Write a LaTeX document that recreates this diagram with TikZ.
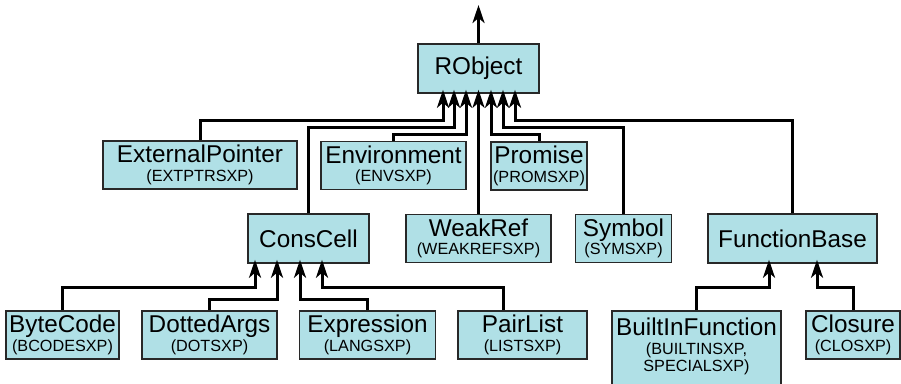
\documentclass[tikz,border=0pt]{standalone}
\usepackage{fontspec}
\setmainfont{Liberation Sans}
\usetikzlibrary{arrows.meta}
\definecolor{boxfill}{RGB}{176,224,230}
\definecolor{boxline}{RGB}{40,40,40}
\newcommand\mainsz{\fontsize{24.3}{24.3}\selectfont}
\newcommand\subsz{\fontsize{16.2}{16.7}\selectfont\lineskiplimit=-30pt\relax}
\begin{document}
\begin{tikzpicture}[x=1pt,y=-1pt,
  cls/.style={draw=boxline, fill=boxfill, line width=1.5pt, inner sep=0pt,
    minimum height=48pt, align=center, font=\subsz},
  link/.style={line width=3pt, shorten >=-4pt,
    -{Stealth[length=18pt,width=12pt,inset=5pt]}},
]
\useasboundingbox (0,0) rectangle (901,383);
\clip (0,0) rectangle (901,383);
% nodes
\node[cls, minimum width=121pt, minimum height=49pt] (ro) at (478.5,68.5) {{\mainsz RObject}};
\node[cls, minimum width=194pt] (ep) at (200,165) {{\mainsz ExternalPointer}\\[1.8pt]{(EXTPTRSXP)}};
\node[cls, minimum width=145pt] (en) at (393.5,165.5) {{\mainsz Environment}\\[1.8pt]{(ENVSXP)}};
\node[cls, minimum width=96pt] (pr) at (539,166) {{\mainsz Promise}\\[1.8pt]{(PROMSXP)}};
\node[cls, minimum width=121pt, minimum height=49pt] (cc) at (308.5,238.5) {{\mainsz ConsCell}};
\node[cls, minimum width=145pt] (wr) at (478.5,238.5) {{\mainsz WeakRef}\\[1.8pt]{(WEAKREFSXP)}};
\node[cls, minimum width=96pt] (sy) at (623.5,238.5) {{\mainsz Symbol}\\[1.8pt]{(SYMSXP)}};
\node[cls, minimum width=169pt, minimum height=49pt] (fb) at (792.5,238.5) {{\mainsz FunctionBase}};
\node[cls, minimum width=113pt] (bc) at (62.5,335) {{\mainsz ByteCode}\\[1.8pt]{(BCODESXP)}};
\node[cls, minimum width=135pt] (da) at (209.5,335) {{\mainsz DottedArgs}\\[1.8pt]{(DOTSXP)}};
\node[cls, minimum width=136pt] (ex) at (367.5,335) {{\mainsz Expression}\\[1.8pt]{(LANGSXP)}};
\node[cls, minimum width=129pt] (pl) at (522.5,335) {{\mainsz PairList}\\[1.8pt]{(LISTSXP)}};
\node[cls, minimum width=169pt, minimum height=80pt] (bi) at (696.5,351) {{\mainsz BuiltInFunction}\\[1.8pt]{(BUILTINSXP,}\\{SPECIALSXP)}\\[-4.2pt]\mbox{}};
\node[cls, minimum width=94pt] (cl) at (853,335) {{\mainsz Closure}\\[1.8pt]{(CLOSXP)}};
\coordinate (up) at (478.5,9);
% connectors
\draw[link] (ro.north) -- (up);
\draw[link] (ep.north) |- (443,120) -- (ro.south -| 443,0);
\draw[link] (cc.north) |- (454,127.5) -- (ro.south -| 454,0);
\draw[link] (en.north) |- (466,134.5) -- (ro.south -| 466,0);
\draw[link] (wr.north) -- (ro.south);
\draw[link] (pr.north) |- (491,134.5) -- (ro.south -| 491,0);
\draw[link] (sy.north) |- (503,127.5) -- (ro.south -| 503,0);
\draw[link] (fb.north) |- (515,120) -- (ro.south -| 515,0);
\draw[link] (bc.north) |- (255,287) -- (cc.south -| 255,0);
\draw[link] (da.north) |- (277,299) -- (cc.south -| 277,0);
\draw[link] (ex.north) |- (300,299) -- (cc.south -| 300,0);
\draw[link] (pl.north -| 503,0) |- (322,287) -- (cc.south -| 322,0);
\draw[link] (bi.north) |- (769,287) -- (fb.south -| 769,0);
\draw[link] (cl.north) |- (817,287) -- (fb.south -| 817,0);
\end{tikzpicture}
\end{document}
